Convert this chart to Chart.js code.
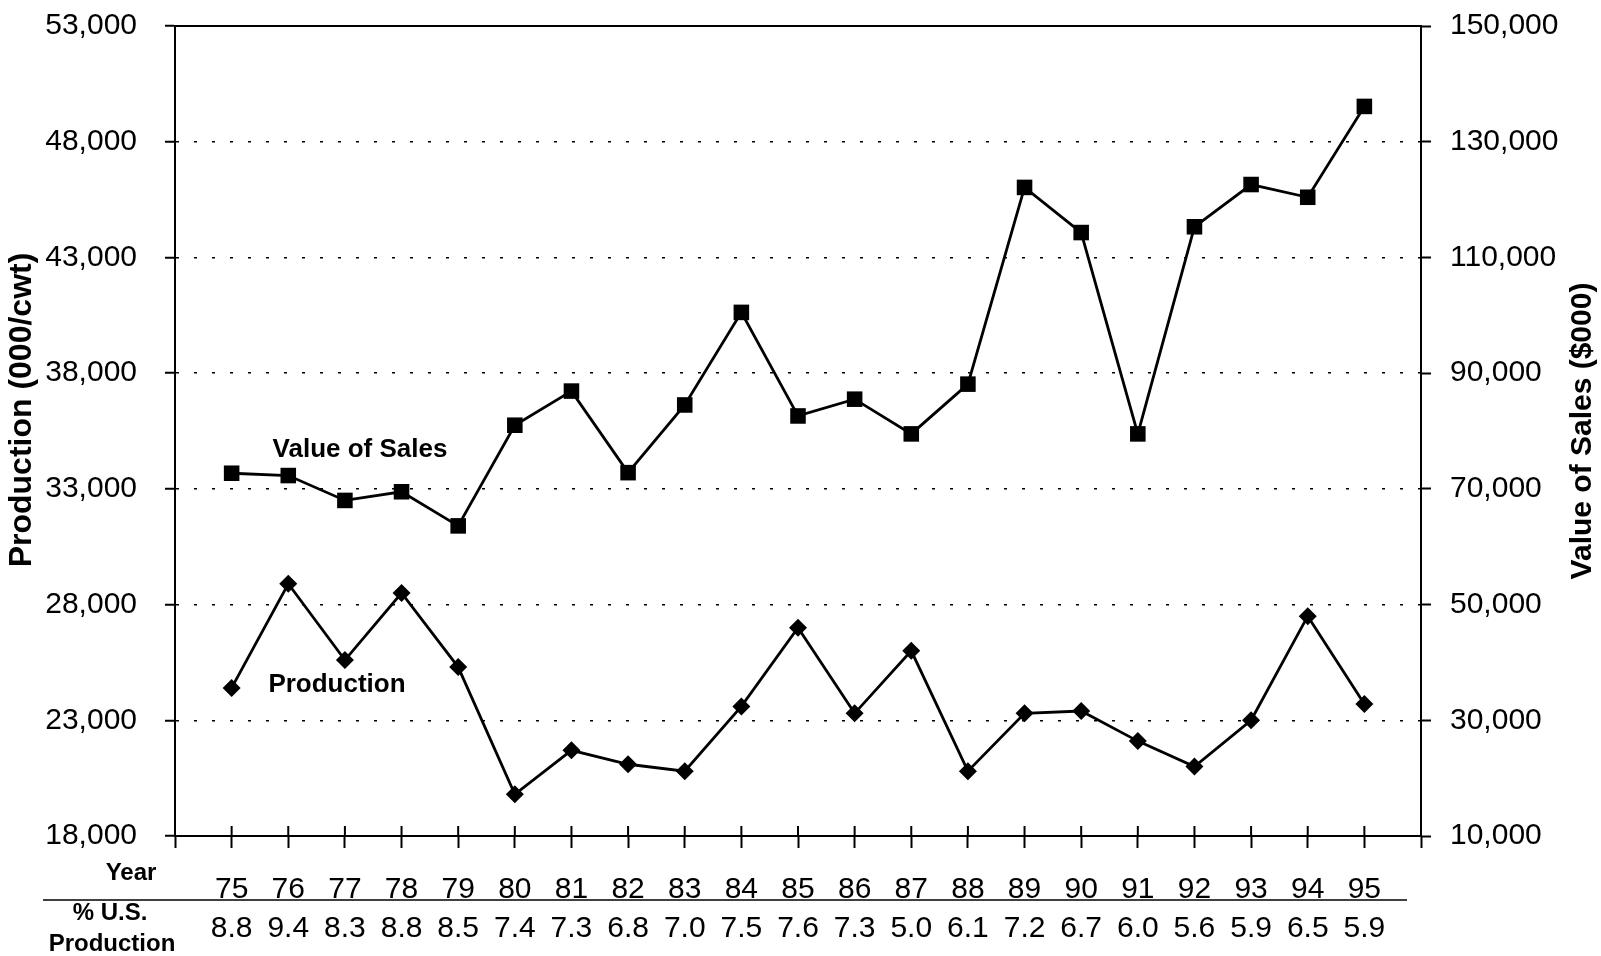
<!DOCTYPE html>
<html>
<head>
<meta charset="utf-8">
<title>Production and Value of Sales</title>
<script src="https://cdn.jsdelivr.net/npm/chart.js@4.4.0/dist/chart.umd.min.js"></script>
<style>
  html, body { margin: 0; padding: 0; background: #fff; }
  #wrap { width: 1601px; height: 956px; }
</style>
</head>
<body>
<div id="wrap"><canvas id="chart" width="1601" height="956"></canvas></div>
<script>
// Data
const years = [75, 76, 77, 78, 79, 80, 81, 82, 83, 84, 85, 86, 87, 88, 89, 90, 91, 92, 93, 94, 95];
const usShare = ['8.8', '9.4', '8.3', '8.8', '8.5', '7.4', '7.3', '6.8', '7.0', '7.5', '7.6',
                 '7.3', '5.0', '6.1', '7.2', '6.7', '6.0', '5.6', '5.9', '6.5', '5.9'];
// Production (000/cwt) - left axis
const production = [24400, 28900, 25600, 28500, 25300, 19800, 21700, 21100, 20800, 23600, 27000,
                    23300, 26000, 20800, 23300, 23400, 22100, 21000, 23000, 27500, 23700];
// Value of Sales ($000) - right axis
const salesValue = [72700, 72300, 68000, 69500, 63600, 81000, 86900, 72800, 84500, 100500, 82600,
                    85500, 79500, 88100, 122100, 114300, 79500, 115300, 122600, 120400, 136100];
const leftTicks = [18000, 23000, 28000, 33000, 38000, 43000, 48000, 53000];
const rightTicks = [10000, 30000, 50000, 70000, 90000, 110000, 130000, 150000];

const FONT = "'Liberation Sans', Arial, Helvetica, sans-serif";
Chart.defaults.font.family = FONT;
Chart.defaults.color = '#000';

// Format number with commas
function formatNumber(num) {
    return num.toString().replace(/\B(?=(\d{3})+(?!\d))/g, ",");
}

// Fix a scale's box so the plot area lands where the original has it
function fixBox(size) {
    return s => {
        if (s.isHorizontal()) {
            s.height = size;
        } else {
            s.width = size;
        }
        s.paddingTop = 0;
        s.paddingBottom = 0;
        s.paddingLeft = 0;
        s.paddingRight = 0;
    };
}

// Extra text and frame lines that are not part of the axes
const extras = {
    id: 'extras',
    afterDraw(chart) {
        const ctx = chart.ctx;
        const a = chart.chartArea;
        const xs = chart.scales.x;
        ctx.save();
        ctx.strokeStyle = '#000';
        ctx.fillStyle = '#000';

        // top frame line
        ctx.lineWidth = 2;
        ctx.beginPath();
        ctx.moveTo(a.left, a.top);
        ctx.lineTo(a.right, a.top);
        ctx.stroke();

        // x tick marks cross into the plot
        ctx.beginPath();
        xs.ticks.forEach(t => {
            const px = xs.getPixelForValue(t.value);
            ctx.moveTo(px, a.bottom - 10);
            ctx.lineTo(px, a.bottom);
        });
        ctx.stroke();

        // rule under the year row
        ctx.lineWidth = 1.5;
        ctx.beginPath();
        ctx.moveTo(43, 900);
        ctx.lineTo(1407, 900);
        ctx.stroke();

        ctx.textAlign = 'center';
        ctx.textBaseline = 'middle';

        // row labels
        ctx.font = 'bold 24px ' + FONT;
        ctx.fillText('Year', 131, 873);
        ctx.fillText('% U.S.', 110, 913);
        ctx.fillText('Production', 112, 944);

        // series labels
        ctx.font = 'bold 26px ' + FONT;
        ctx.fillText('Value of Sales', 360, 450);
        ctx.fillText('Production', 337, 685);

        // axis titles, both reading bottom to top
        ctx.save();
        ctx.font = 'bold 32px ' + FONT;
        ctx.translate(22, 410);
        ctx.rotate(-Math.PI / 2);
        ctx.fillText('Production (000/cwt)', 0, 0);
        ctx.restore();
        ctx.save();
        ctx.font = 'bold 30px ' + FONT;
        ctx.translate(1583, 431);
        ctx.rotate(-Math.PI / 2);
        ctx.fillText('Value of Sales ($000)', 0, 0);
        ctx.restore();

        ctx.restore();
    }
};

const ctx = document.getElementById('chart');
const chart = new Chart(ctx, {
    type: 'line',
    data: {
        datasets: [{
            label: 'Value of Sales',
            data: years.map((y, i) => ({ x: y, y: salesValue[i] })),
            yAxisID: 'y1',
            borderColor: '#000',
            backgroundColor: '#000',
            borderWidth: 2.8,
            pointStyle: 'rect',
            pointRadius: 11,
            pointBorderWidth: 0,
            tension: 0
        }, {
            label: 'Production',
            data: years.map((y, i) => ({ x: y, y: production[i] })),
            yAxisID: 'y',
            borderColor: '#000',
            backgroundColor: '#000',
            borderWidth: 2.8,
            pointStyle: 'rectRot',
            pointRadius: 9,
            pointBorderWidth: 0,
            tension: 0
        }]
    },
    options: {
        responsive: false,
        animation: false,
        events: [],
        layout: { padding: { top: 26, left: 0, right: 0, bottom: 0 } },
        plugins: {
            legend: { display: false },
            tooltip: { enabled: false },
            title: { display: false }
        },
        scales: {
            x: {
                type: 'linear',
                min: 74,
                max: 96,
                afterFit: fixBox(120),
                afterBuildTicks: s => {
                    s.ticks = [];
                    for (let v = 74; v <= 96; v++) s.ticks.push({ value: v });
                },
                ticks: {
                    autoSkip: false,
                    maxRotation: 0,
                    minRotation: 0,
                    padding: 22,
                    font: { size: 30, lineHeight: 1.3 },
                    callback: v => {
                        const i = years.indexOf(v);
                        return i < 0 ? '' : [String(v), usShare[i]];
                    }
                },
                grid: {
                    drawOnChartArea: false,
                    tickLength: 12,
                    tickColor: '#000',
                    tickWidth: 2
                },
                border: { display: true, color: '#000', width: 2 }
            },
            y: {
                position: 'left',
                min: 18000,
                max: 53000,
                afterFit: fixBox(175),
                afterBuildTicks: s => { s.ticks = leftTicks.map(v => ({ value: v })); },
                ticks: {
                    padding: 28,
                    font: { size: 30 },
                    callback: v => formatNumber(v)
                },
                grid: {
                    color: '#000',
                    lineWidth: 1.5,
                    tickLength: 10,
                    tickColor: '#000',
                    tickWidth: 2
                },
                border: { display: true, color: '#000', width: 2, dash: [3, 15] }
            },
            y1: {
                position: 'right',
                min: 10000,
                max: 150000,
                afterFit: fixBox(180),
                afterBuildTicks: s => { s.ticks = rightTicks.map(v => ({ value: v })); },
                ticks: {
                    padding: 19,
                    font: { size: 30 },
                    callback: v => formatNumber(v)
                },
                grid: {
                    drawOnChartArea: false,
                    tickLength: 10,
                    tickColor: '#000',
                    tickWidth: 2
                },
                border: { display: true, color: '#000', width: 2 }
            }
        }
    },
    plugins: [extras]
});
</script>
</body>
</html>
